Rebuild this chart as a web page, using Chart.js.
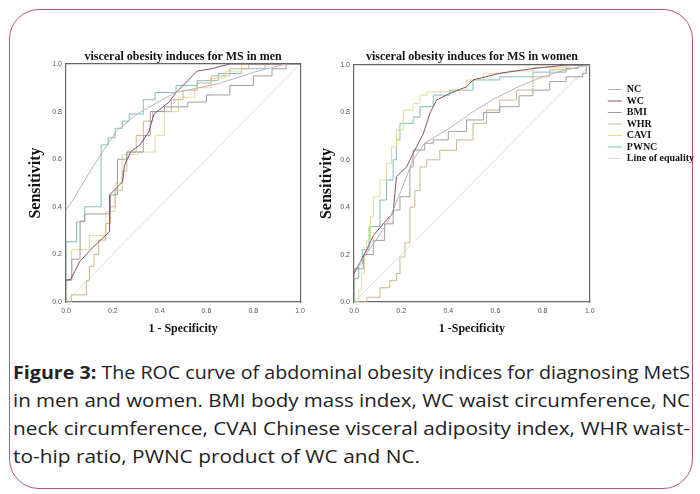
<!DOCTYPE html>
<html>
<head>
<meta charset="utf-8">
<script src="https://cdn.jsdelivr.net/npm/chart.js@4.4.0/dist/chart.umd.min.js"></script>
<style>
  html, body { margin: 0; padding: 0; background: #fff; }
  body { width: 700px; height: 494px; position: relative; overflow: hidden; }
  .card { position: absolute; left: 9px; top: 9px; width: 682px; height: 478px;
          border: 1.5px solid #b3548b; border-radius: 30px; }
  #menBox { position: absolute; left: 10px; top: 30px; width: 300px; height: 315px; }
  #womenBox { position: absolute; left: 310px; top: 30px; width: 395px; height: 315px; }
  .caption { position: absolute; left: 13px; top: 358px; width: 677px;
             font-family: "Open Sans", sans-serif; font-size: 18px; line-height: 28px; color: #222; }
  .caption .line { display: block; height: 28px; white-space: nowrap; }
  .caption .line span { display: inline-block; transform-origin: 0 50%; }
</style>
</head>
<body>
<div class="card"></div>
<div id="menBox"><canvas id="menChart"></canvas></div>
<div id="womenBox"><canvas id="womenChart"></canvas></div>
<div class="caption">
  <div class="line" data-w="677"><span><b>Figure 3:</b> The ROC curve of abdominal obesity indices for diagnosing MetS</span></div>
  <div class="line" data-w="677"><span>in men and women. BMI body mass index, WC waist circumference, NC</span></div>
  <div class="line" data-w="677"><span>neck circumference, CVAI Chinese visceral adiposity index, WHR waist-</span></div>
  <div class="line" data-w="407"><span>to-hip ratio, PWNC product of WC and NC.</span></div>
</div>
<script>
// series names (legend order) and tick values
const seriesNames = ['NC', 'WC', 'BMI', 'WHR', 'CAVI', 'PWNC', 'Line of equality'];
const axisTicks = [0, 0.2, 0.4, 0.6, 0.8, 1.0];

// men: [1 - specificity, sensitivity]
const menNC = [[0,0.386],[0.03,0.43],[0.059,0.478],[0.115,0.568],[0.157,0.632],[0.214,0.716],[0.298,0.786],[0.397,0.842],[0.467,0.88],[0.52,0.89],[0.66,0.92],[0.8,0.965],[0.94,1],[1,1]];
const menWC = [[0,0.092],[0.02,0.095],[0.059,0.17],[0.115,0.23],[0.186,0.295],[0.186,0.45],[0.242,0.505],[0.25,0.575],[0.277,0.632],[0.316,0.66],[0.354,0.716],[0.376,0.79],[0.44,0.84],[0.47,0.88],[0.51,0.92],[0.56,0.97],[0.62,0.98],[0.7,1],[1,1]];
const menBMI = [[0,0],[0,0.092],[0.025,0.18],[0.06,0.34],[0.08,0.37],[0.19,0.45],[0.22,0.6],[0.26,0.63],[0.33,0.7],[0.36,0.8],[0.42,0.82],[0.52,0.84],[0.6,0.87],[0.7,0.91],[0.8,0.95],[0.88,0.98],[0.94,1],[1,1]];
const menWHR = [[0,0],[0.024,0.03],[0.087,0.09],[0.1,0.15],[0.12,0.2],[0.14,0.26],[0.17,0.33],[0.19,0.4],[0.21,0.47],[0.24,0.55],[0.26,0.63],[0.3,0.7],[0.33,0.76],[0.37,0.8],[0.45,0.85],[0.5,0.89],[0.56,0.92],[0.62,0.95],[0.7,0.98],[0.78,1],[1,1]];
const menCAVI = [[0,0],[0,0.09],[0.024,0.22],[0.1,0.28],[0.17,0.38],[0.21,0.5],[0.24,0.62],[0.31,0.63],[0.38,0.7],[0.42,0.8],[0.48,0.86],[0.55,0.9],[0.62,0.94],[0.68,0.97],[0.75,1],[1,1]];
const menPWNC = [[0,0],[0,0.253],[0.045,0.337],[0.08,0.4],[0.15,0.66],[0.18,0.69],[0.21,0.73],[0.24,0.76],[0.27,0.79],[0.33,0.85],[0.38,0.88],[0.47,0.91],[0.56,0.93],[0.65,0.96],[0.75,0.98],[0.85,1],[1,1]];

// women
const womenNC = [[0,0.13],[0.05,0.2],[0.1,0.27],[0.15,0.35],[0.2,0.47],[0.25,0.6],[0.3,0.67],[0.35,0.7],[0.4,0.73],[0.5,0.8],[0.6,0.86],[0.7,0.91],[0.8,0.95],[0.9,0.98],[1,1]];
const womenWC = [[0,0.12],[0.054,0.22],[0.082,0.28],[0.138,0.346],[0.166,0.375],[0.18,0.529],[0.223,0.57],[0.251,0.627],[0.294,0.71],[0.322,0.796],[0.35,0.852],[0.406,0.88],[0.477,0.908],[0.505,0.937],[0.618,0.965],[0.759,0.985],[0.9,1],[1,1]];
const womenBMI = [[0,0],[0,0.14],[0.04,0.2],[0.082,0.26],[0.13,0.33],[0.166,0.388],[0.195,0.444],[0.237,0.57],[0.251,0.641],[0.3,0.67],[0.336,0.684],[0.4,0.72],[0.477,0.768],[0.55,0.8],[0.618,0.824],[0.7,0.87],[0.759,0.894],[0.83,0.93],[0.9,0.95],[0.97,0.965],[0.985,1],[1,1]];
const womenWHR = [[0,0],[0.054,0.02],[0.11,0.06],[0.152,0.09],[0.18,0.12],[0.195,0.19],[0.216,0.25],[0.237,0.4],[0.258,0.47],[0.28,0.57],[0.308,0.6],[0.364,0.64],[0.435,0.684],[0.505,0.754],[0.562,0.81],[0.618,0.852],[0.689,0.894],[0.759,0.95],[0.83,0.98],[0.9,1],[1,1]];
const womenCAVI = [[0,0],[0.02,0.05],[0.033,0.12],[0.045,0.2],[0.054,0.26],[0.07,0.36],[0.082,0.444],[0.11,0.515],[0.138,0.585],[0.159,0.655],[0.18,0.726],[0.209,0.81],[0.251,0.838],[0.28,0.873],[0.31,0.887],[0.42,0.894],[0.478,0.937],[0.548,0.965],[0.65,0.975],[0.76,0.99],[0.92,1],[1,1]];
const womenPWNC = [[0,0],[0,0.1],[0.02,0.16],[0.035,0.22],[0.064,0.318],[0.11,0.43],[0.138,0.515],[0.166,0.6],[0.18,0.684],[0.195,0.754],[0.251,0.78],[0.28,0.824],[0.336,0.873],[0.406,0.894],[0.505,0.937],[0.618,0.95],[0.759,0.97],[0.9,0.985],[0.95,1],[1,1]];

const equality = [[0,0],[1,1]];

const lineColors = ['#bdb0bb', '#85506b', '#9d9d9d', '#cdb68c', '#e1dc94', '#7fbfb5', '#dddddd'];

const serif = 'Liberation Serif';
const tickFont = { family: 'Liberation Sans', size: 7 };

// stretch each caption line to the width it has in the figure
document.querySelectorAll('.caption .line').forEach(line => {
    const span = line.querySelector('span');
    const target = +line.dataset.w;
    span.style.transform = `scaleX(${target / span.getBoundingClientRect().width})`;
});

// top/right helper axes that only draw the plot frame
function frameAxis(position, size) {
    return {
        type: 'linear', position, min: 0, max: 1,
        grid: { display: false, drawTicks: false },
        ticks: { display: false },
        border: { color: '#666', width: 1.2 },
        afterFit: (s) => {
            if (position === 'top') s.height = size; else s.width = size;
        }
    };
}

function makeChart(ctxId, title, xTitle, series, stepped, cfg) {
    const datasets = series.map((pts, i) => ({
        label: seriesNames[i],
        data: pts.map(p => ({ x: p[0], y: p[1] })),
        borderColor: lineColors[i],
        backgroundColor: lineColors[i],
        borderWidth: 1,
        pointRadius: 0,
        stepped: stepped[i] ? 'before' : false,
        tension: 0
    }));

    const ctx = document.getElementById(ctxId).getContext('2d');
    return new Chart(ctx, {
        type: 'line',
        data: { datasets },
        options: {
            responsive: true,
            maintainAspectRatio: false,
            animation: false,
            layout: { padding: cfg.padding },
            plugins: {
                title: {
                    display: true,
                    text: title,
                    fullSize: false,
                    color: '#111',
                    font: { family: serif, size: 12, weight: 'bold' },
                    padding: { top: cfg.titleTop, bottom: cfg.titleBottom }
                },
                legend: cfg.legend ? {
                    display: true,
                    position: 'right',
                    align: 'start',
                    fullSize: false,
                    maxWidth: 120,
                    title: { display: true, text: ' ', font: { size: 10 }, padding: { top: 6, bottom: 0 } },
                    labels: {
                        usePointStyle: true,
                        pointStyle: 'line',
                        pointStyleWidth: 14,
                        boxHeight: 10,
                        padding: 1.5,
                        color: '#111',
                        font: { family: serif, size: 10, weight: 'bold' }
                    }
                } : { display: false },
                tooltip: { enabled: false }
            },
            scales: {
                x: {
                    type: 'linear', position: 'bottom', min: 0, max: 1,
                    afterBuildTicks: (s) => { s.ticks = axisTicks.map(v => ({ value: v })); },
                    afterFit: (s) => { s.height = 40; },
                    grid: { display: false, drawTicks: false },
                    border: { color: '#666', width: 1.2 },
                    ticks: { font: tickFont, color: '#555', padding: 5, maxRotation: 0,
                             callback: (v) => v.toFixed(1) },
                    title: { display: true, text: xTitle, color: '#111',
                             font: { family: serif, size: 12, weight: 'bold' },
                             padding: { top: 0, bottom: 6 } }
                },
                y: {
                    type: 'linear', position: 'left', min: 0, max: 1,
                    afterBuildTicks: (s) => { s.ticks = axisTicks.map(v => ({ value: v })); },
                    afterFit: (s) => { s.width = cfg.yWidth; },
                    grid: { display: false, drawTicks: false },
                    border: { color: '#666', width: 1.2 },
                    ticks: { font: tickFont, color: '#555', padding: 4,
                             callback: (v) => v.toFixed(1) },
                    title: { display: true, text: 'Sensitivity', color: '#111',
                             font: { family: serif, size: 16, weight: 'bold' },
                             padding: { top: cfg.yTitlePad, bottom: 0 } }
                },
                x2: frameAxis('top', 0),
                y2: frameAxis('right', cfg.rightWidth)
            }
        }
    });
}

makeChart('menChart', 'visceral obesity induces for MS in men', '1 - Specificity',
    [menNC, menWC, menBMI, menWHR, menCAVI, menPWNC, equality],
    [false, false, true, true, true, true, false],
    { padding: { left: 0, right: 7, top: 0, bottom: 3 }, titleTop: 19.5, titleBottom: 0.1,
      yWidth: 56, yTitlePad: 16.4, rightWidth: 0, legend: false });

makeChart('womenChart', 'visceral obesity induces for MS in women', '1 -Specificity',
    [womenNC, womenWC, womenBMI, womenWHR, womenCAVI, womenPWNC, equality],
    [false, false, true, true, true, true, false],
    { padding: { left: 0, right: 1, top: 0, bottom: 3 }, titleTop: 19.5, titleBottom: 1.1,
      yWidth: 44, yTitlePad: 7.4, rightWidth: 16.5, legend: true });
</script>
</body>
</html>
